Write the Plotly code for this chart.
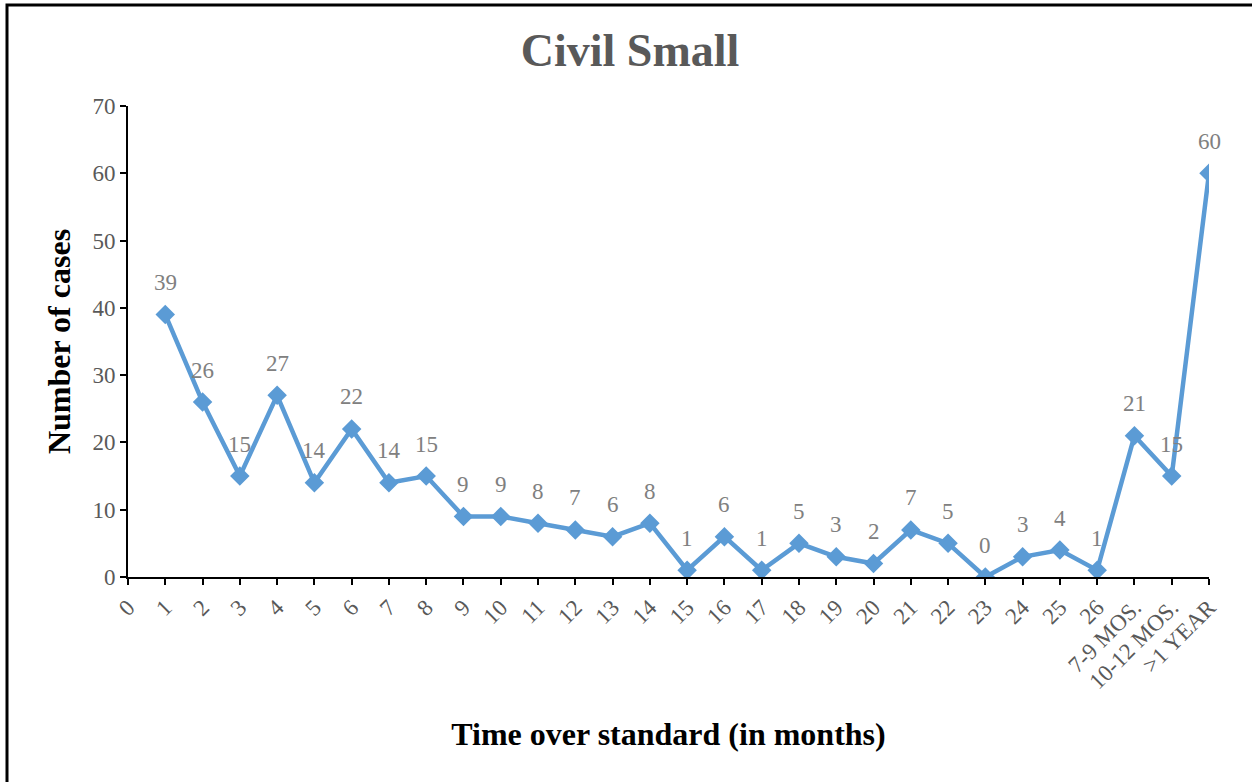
import plotly.graph_objects as go

categories = ["0", "1", "2", "3", "4", "5", "6", "7", "8", "9", "10", "11", "12", "13",
              "14", "15", "16", "17", "18", "19", "20", "21", "22", "23", "24", "25", "26",
              "7-9 MOS.", "10-12 MOS.", ">1 YEAR"]
cases = [None, 39, 26, 15, 27, 14, 22, 14, 15, 9, 9, 8, 7, 6, 8, 1, 6, 1, 5, 3, 2, 7, 5,
         0, 3, 4, 1, 21, 15, 60]
y_ticks = [0, 10, 20, 30, 40, 50, 60, 70]

W, H = 1252, 782
# plot area in page pixels: x 128..1209, y 106..577
L, T = 128, 106
R = W - 1209
B = H - 577
pw, ph = W - L - R, H - T - B

SERIF = "Liberation Serif, Times New Roman, serif"
BLUE = "#5B9BD5"

fig = go.Figure()
fig.add_trace(go.Scatter(
    x=categories, y=cases, mode="lines+markers",
    line=dict(color=BLUE, width=4.5),
    marker=dict(symbol="diamond", size=15, color=BLUE),
    connectgaps=False, showlegend=False, hoverinfo="x+y",
))

for c, v in zip(categories, cases):
    if v is None:
        continue
    fig.add_annotation(x=c, y=v, text=str(v), showarrow=False, yshift=32,
                       font=dict(family=SERIF, size=23, color="#808080"))

def px_x(p):
    return (p - L) / pw

def px_y(p):
    return (H - B - p) / ph

fig.add_shape(type="rect", xref="paper", yref="paper",
              x0=px_x(7), x1=px_x(1262), y0=px_y(795), y1=px_y(5),
              line=dict(color="black", width=3), fillcolor="rgba(0,0,0,0)")

fig.update_layout(
    width=W, height=H,
    margin=dict(l=L, r=R, t=T, b=B),
    paper_bgcolor="white", plot_bgcolor="white",
    title=dict(text="<b>Civil Small</b>", x=630 / W, xanchor="center",
               y=1 - 50 / H, yanchor="middle", yref="container",
               font=dict(family=SERIF, size=46, color="#595959")),
    font=dict(family=SERIF),
)
fig.update_xaxes(
    type="category", categoryorder="array", categoryarray=categories,
    range=[0, len(categories) - 1],
    showline=True, linecolor="black", linewidth=2,
    ticks="outside", ticklen=6, tickwidth=2, tickcolor="black",
    tickangle=-45, tickfont=dict(family=SERIF, size=23, color="#595959"),
    showgrid=False, zeroline=False,
    title=dict(text="<b>Time over standard (in months)</b>", standoff=30,
               font=dict(family=SERIF, size=32, color="black")),
)
fig.update_yaxes(
    range=[0, 70], tickvals=y_ticks,
    showline=True, linecolor="black", linewidth=2,
    ticks="outside", ticklen=6, tickwidth=2, tickcolor="black",
    tickfont=dict(family=SERIF, size=23, color="#595959"),
    showgrid=False, zeroline=False,
    title=dict(text="<b>Number of cases</b>", standoff=12,
               font=dict(family=SERIF, size=32, color="black")),
)

fig.write_html("out.html", config={"displayModeBar": False},
               post_script="document.body.style.margin='0';")
